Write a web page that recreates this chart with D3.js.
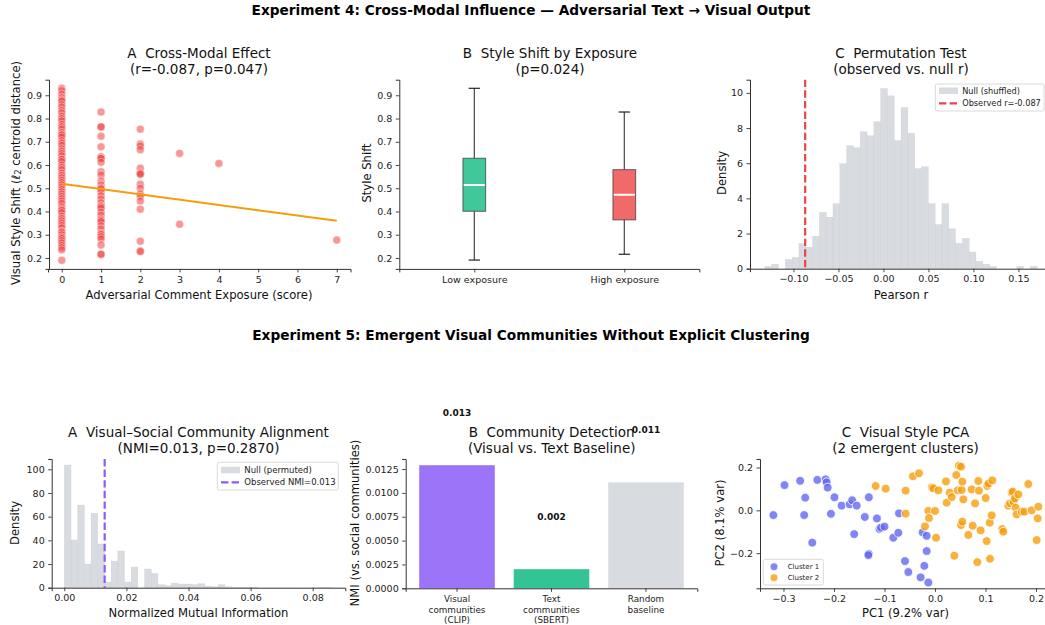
<!DOCTYPE html>
<html><head><meta charset="utf-8">
<script src="https://cdn.jsdelivr.net/npm/d3@7"></script>
<style>
body{margin:0;background:#fff;}
svg{font-family:"DejaVu Sans",sans-serif;}
svg text{white-space:pre;}
</style></head><body>
<svg id="chart" width="1045" height="625"></svg>
<script>
// ---------------- DATA ----------------
// Exp 4A: visual style shift by adversarial exposure score
const exposureLevels = [0, 1, 2, 3, 4, 7];
const shiftExp0 = [0.93,0.92,0.905,0.89,0.88,0.875,0.86,0.85,0.835,0.825,0.81,0.80,0.79,0.775,0.765,0.755,0.74,0.73,0.73,0.72,0.705,0.695,0.685,0.67,0.66,0.65,0.64,0.625,0.625,0.615,0.60,0.59,0.58,0.565,0.555,0.545,0.535,0.525,0.515,0.505,0.495,0.485,0.475,0.465,0.455,0.445,0.435,0.42,0.41,0.405,0.395,0.38,0.37,0.36,0.35,0.34,0.33,0.315,0.31,0.30,0.29,0.285,0.275,0.265,0.255,0.245,0.235,0.19];
const shiftExp1 = [0.828,0.764,0.764,0.724,0.678,0.636,0.629,0.629,0.612,0.571,0.557,0.531,0.514,0.502,0.497,0.485,0.468,0.454,0.438,0.425,0.420,0.414,0.397,0.385,0.368,0.362,0.356,0.339,0.325,0.306,0.302,0.292,0.282,0.256,0.217,0.215];
const shiftExp2 = [0.754,0.690,0.682,0.666,0.586,0.567,0.563,0.560,0.517,0.500,0.475,0.465,0.445,0.410,0.272,0.230,0.228];
const shiftExp3 = [0.650,0.345];
const shiftExp4 = [0.607];
const shiftExp7 = [0.277];
const fitX = [0, 7];
const fitY = [0.519, 0.360];
const xTicksA = [0,1,2,3,4,5,6,7];
const yTicksShift = [0.2,0.3,0.4,0.5,0.6,0.7,0.8,0.9];

// Exp 4B: box plot summary
const boxGroups = ["Low exposure", "High exposure"];
const boxWhiskLow = [0.191, 0.216];
const boxQ1 = [0.401, 0.364];
const boxMedian = [0.514, 0.472];
const boxQ3 = [0.629, 0.580];
const boxWhiskHigh = [0.930, 0.828];

// Exp 4C: permutation null distribution (density per bin)
const permBinLo = -0.1317, permBinHi = 0.1709;
const permDensity = [0.13,0.25,0,0.53,0.64,1.44,1.23,1.85,3.2,2.93,3.7,5.97,7.0,6.88,7.79,7.56,8.36,10.25,9.83,7.28,9.17,7.71,5.69,5.80,3.7,2.51,3.7,2.27,1.44,1.72,0.95,0.42,0.26,0.13,0,0,0,0.13,0,0.13];
const observedR = -0.087;
const xTicksPerm = [-0.10,-0.05,0.00,0.05,0.10,0.15];
const yTicksPerm = [0,2,4,6,8,10];

// Exp 5A: NMI null distribution
const nmiBinLo = 0, nmiBinHi = 0.0862;
const nmiDensity = [103.6,40.3,69.8,20,63,36.9,4.8,22.5,31,4.8,17.5,0,15.8,12.1,2.5,1.7,3.9,3.1,3.1,2.5,3.4,1.4,0.8,2.5,0.8,0.5,0.5,0.3,0.3,0,0,0,0,0,0,0,0,0,0.3,0.3];
const observedNMI = 0.013;
const xTicksNMI = [0.00,0.02,0.04,0.06,0.08];
const yTicksNMI = [0,20,40,60,80,100];

// Exp 5B: community detection bars
const commCategories = [["Visual","communities","(CLIP)"],["Text","communities","(SBERT)"],["Random","baseline"]];
const commNMI = [0.0129, 0.0020, 0.0111];
const commLabels = ["0.013", "0.002", "0.011"];
const yTicksComm = [0.0000,0.0025,0.0050,0.0075,0.0100,0.0125];

// Exp 5C: PCA of visual style
const cluster1PC1 = [-0.320,-0.298,-0.267,-0.257,-0.259,-0.243,-0.233,-0.2165,-0.2145,-0.2125,-0.206,-0.199,-0.185,-0.169,-0.164,-0.155,-0.160,-0.139,-0.131,-0.131,-0.132,-0.115,-0.110,-0.107,-0.100,-0.0825,-0.0726,-0.0713,-0.0594,-0.0528,-0.0284,-0.0244,-0.0211,-0.0165,-0.0165,-0.0132];
const cluster1PC2 = [-0.022,0.118,0.138,0.059,-0.022,-0.151,0.142,0.145,0.131,0.106,-0.016,0.061,0.022,0.028,0.047,0.022,-0.111,-0.031,0.061,-0.203,-0.209,-0.038,-0.087,-0.081,-0.076,-0.128,-0.105,-0.014,-0.237,-0.288,-0.313,-0.103,-0.259,-0.119,-0.190,-0.337];
const cluster2PC1 = [-0.1175,-0.0977,-0.0581,-0.0581,-0.0436,-0.0317,-0.0198,-0.0132,-0.0119,0.000,0.002,-0.006,-0.0033,0.0066,0.0218,0.0231,0.029,0.033,0.0383,0.0422,0.0475,0.0515,0.0449,0.0528,0.0541,0.0515,0.0541,0.0561,0.066,0.0726,0.0746,0.0792,0.0858,0.0871,0.0904,0.1003,0.1023,0.1036,0.1056,0.1083,0.1089,0.1122,0.1135,0.0838,0.1333,0.1353,0.1452,0.1485,0.1518,0.1538,0.1551,0.1584,0.1597,0.1617,0.165,0.1716,0.1769,0.1848,0.1914,0.2013,0.2046,0.2033];
const cluster2PC2 = [0.1136,0.101,0.0917,-0.0157,0.159,0.173,-0.075,-0.003,-0.036,-0.003,-0.128,0.107,0.1027,0.0933,0.135,0.0357,0.0824,0.062,-0.212,0.165,0.2086,0.2039,0.0933,0.095,0.134,-0.0687,-0.053,0.0513,-0.115,0.098,-0.072,0.0326,0.137,0.0917,-0.0936,0.0575,-0.1435,0.1136,0.1245,-0.0578,-0.226,-0.0235,0.140,-0.2416,-0.0874,-0.0998,0.0216,0.0326,0.0824,0.087,0.0403,0.056,0.0123,-0.0188,0.0746,-0.0064,-0.0064,0.1229,0.000,-0.1388,0.017,-0.0375];
const xTicksPCA = [-0.3,-0.2,-0.1,0.0,0.1,0.2];
const yTicksPCA = [-0.2,0.0,0.2];

// ---------------- DRAWING ----------------
const svg = d3.select("#chart");
const TICK_FS = 9.5, LABEL_FS = 11.6, TITLE_FS = 13.5, INK = "#222";

function styleAxis(g){
  g.attr("font-family","DejaVu Sans").attr("font-size",TICK_FS);
  g.select(".domain").attr("stroke","#333").attr("stroke-width",1);
  g.selectAll(".tick line").attr("stroke","#333").attr("stroke-width",0.9);
  g.selectAll(".tick text").attr("fill",INK);
}
function xAxis(scale, y, ticks, fmt){
  const g = svg.append("g").attr("transform",`translate(0,${y})`)
    .call(d3.axisBottom(scale).tickValues(ticks).tickFormat(fmt).tickSizeOuter(0).tickSize(3.5).tickPadding(3.5));
  styleAxis(g); return g;
}
function yAxis(scale, x, ticks, fmt){
  const g = svg.append("g").attr("transform",`translate(${x},0)`)
    .call(d3.axisLeft(scale).tickValues(ticks).tickFormat(fmt).tickSizeOuter(0).tickSize(3.5).tickPadding(3.5));
  styleAxis(g); return g;
}
function title(cx, y1, l1, l2){
  [l1,l2].forEach((t,i)=>svg.append("text").attr("x",cx).attr("y",y1+i*15.2)
    .attr("text-anchor","middle").attr("dominant-baseline","central")
    .attr("font-size",TITLE_FS).attr("fill","#111").text(t));
}
function xLabel(cx, y, t){
  svg.append("text").attr("x",cx).attr("y",y).attr("text-anchor","middle")
    .attr("dominant-baseline","central").attr("font-size",LABEL_FS).attr("fill","#111").text(t);
}
function yLabel(x, cy, t){
  return svg.append("text").attr("transform",`translate(${x},${cy}) rotate(-90)`).attr("text-anchor","middle")
    .attr("dominant-baseline","central").attr("font-size",LABEL_FS).attr("fill","#111").text(t);
}
function legendBox(x,y,w,h){
  svg.append("rect").attr("x",x).attr("y",y).attr("width",w).attr("height",h).attr("rx",2)
    .attr("fill","#fff").attr("fill-opacity",0.8).attr("stroke","#d0d0d0").attr("stroke-width",0.8);
}
const fmt1 = d3.format(".1f"), fmt2 = d3.format(".2f"), fmt4 = d3.format(".4f"), fmt0 = d3.format("d");

// suptitles
svg.append("text").attr("x",531).attr("y",9.5).attr("text-anchor","middle").attr("dominant-baseline","central")
  .attr("font-size",13.7).attr("font-weight","bold").attr("fill","#000")
  .text("Experiment 4: Cross-Modal Influence — Adversarial Text → Visual Output");
svg.append("text").attr("x",531).attr("y",335).attr("text-anchor","middle").attr("dominant-baseline","central")
  .attr("font-size",13.7).attr("font-weight","bold").attr("fill","#000")
  .text("Experiment 5: Emergent Visual Communities Without Explicit Clustering");

// ===== Panel 4A =====
{
  const L=48, R=350.5, T=79.7, B=268.9;
  const x = d3.scaleLinear().domain([-0.35,7.35]).range([L,R]);
  const y = d3.scaleLinear().domain([0.153,0.967]).range([B,T]);
  const groups = [shiftExp0,shiftExp1,shiftExp2,shiftExp3,shiftExp4,shiftExp7];
  const pts = [];
  groups.forEach((arr,i)=>arr.forEach(v=>pts.push([exposureLevels[i],v])));
  svg.append("g").selectAll("circle").data(pts).join("circle")
    .attr("cx",d=>x(d[0])).attr("cy",d=>y(d[1])).attr("r",4)
    .attr("fill","#ef4444").attr("fill-opacity",0.55)
    .attr("stroke","#fff").attr("stroke-opacity",0.6).attr("stroke-width",0.7);
  svg.append("path").datum(fitX.map((v,i)=>[v,fitY[i]]))
    .attr("d",d3.line().x(d=>x(d[0])).y(d=>y(d[1])))
    .attr("fill","none").attr("stroke","#f59e0b").attr("stroke-width",2);
  xAxis(x,B,xTicksA,fmt0);
  yAxis(y,L+1,yTicksShift,fmt1);
  title(199,53.3,"A  Cross-Modal Effect","(r=-0.087, p=0.047)");
  xLabel(199,295,"Adversarial Comment Exposure (score)");
  const yl = svg.append("text").attr("transform",`translate(15.5,173) rotate(-90)`).attr("text-anchor","middle")
    .attr("dominant-baseline","central").attr("font-size",LABEL_FS).attr("fill","#111");
  yl.append("tspan").text("Visual Style Shift (");
  yl.append("tspan").attr("font-style","italic").text("ℓ");
  yl.append("tspan").attr("font-size",8).attr("dy",2.5).text("2");
  yl.append("tspan").attr("dy",-2.5).text(" centroid distance)");
}

// ===== Panel 4B =====
{
  const L=399.3, R=699.3, T=79.7, B=268.9;
  const x = d3.scalePoint().domain(boxGroups).range([L,R]).padding(0.5);
  const y = d3.scaleLinear().domain([0.153,0.967]).range([B,T]);
  const colors = ["#10b981","#ef4444"];
  const bw = 22.7, cw = 11.3;
  boxGroups.forEach((gname,i)=>{
    const cx = x(gname);
    const g = svg.append("g");
    g.append("line").attr("x1",cx).attr("x2",cx).attr("y1",y(boxWhiskHigh[i])).attr("y2",y(boxQ3[i])).attr("stroke","#444").attr("stroke-width",1.2);
    g.append("line").attr("x1",cx).attr("x2",cx).attr("y1",y(boxQ1[i])).attr("y2",y(boxWhiskLow[i])).attr("stroke","#444").attr("stroke-width",1.2);
    [boxWhiskHigh[i],boxWhiskLow[i]].forEach(v=>g.append("line").attr("x1",cx-cw/2).attr("x2",cx+cw/2).attr("y1",y(v)).attr("y2",y(v)).attr("stroke","#222").attr("stroke-width",1.2));
    g.append("rect").attr("x",cx-bw/2).attr("width",bw).attr("y",y(boxQ3[i])).attr("height",y(boxQ1[i])-y(boxQ3[i]))
      .attr("fill",colors[i]).attr("fill-opacity",0.8).attr("stroke","#444").attr("stroke-opacity",0.8).attr("stroke-width",1);
    g.append("line").attr("x1",cx-bw/2+0.8).attr("x2",cx+bw/2-0.8).attr("y1",y(boxMedian[i])).attr("y2",y(boxMedian[i])).attr("stroke","#fff").attr("stroke-width",2);
  });
  xAxis(x,B,boxGroups,d=>d);
  yAxis(y,L,yTicksShift,fmt1);
  title(550,53.3,"B  Style Shift by Exposure","(p=0.024)");
  yLabel(366.7,173,"Style Shift");
}

// ===== Panel 4C =====
{
  const L=750, R=1051, T=79.7, B=268.7;
  const x = d3.scaleLinear().domain([-0.1483,0.1862]).range([L,R]);
  const y = d3.scaleLinear().domain([0,10.75]).range([B,T]);
  const bw = (permBinHi-permBinLo)/permDensity.length;
  svg.append("g").selectAll("rect").data(permDensity).join("rect")
    .attr("x",(d,i)=>x(permBinLo+i*bw)).attr("width",(d,i)=>x(permBinLo+(i+1)*bw)-x(permBinLo+i*bw))
    .attr("y",d=>y(d)).attr("height",d=>B-y(d))
    .attr("fill","#d1d5db").attr("fill-opacity",0.85).attr("stroke","#c9cdd3").attr("stroke-width",0.3);
  svg.append("line").attr("x1",x(observedR)).attr("x2",x(observedR)).attr("y1",T).attr("y2",B)
    .attr("stroke","#ef4444").attr("stroke-width",2.2).attr("stroke-dasharray","7.4,3.2");
  xAxis(x,B,xTicksPerm,fmt2);
  yAxis(y,L,yTicksPerm,fmt0);
  title(901,53.3,"C  Permutation Test","(observed vs. null r)");
  xLabel(901,295,"Pearson r");
  yLabel(721.7,173,"Density");
  legendBox(935.3,84,108.7,27);
  svg.append("rect").attr("x",939).attr("y",87.5).attr("width",19).attr("height",6.5).attr("fill","#d1d5db").attr("fill-opacity",0.85);
  svg.append("line").attr("x1",939).attr("x2",958).attr("y1",103.3).attr("y2",103.3).attr("stroke","#ef4444").attr("stroke-width",2.2).attr("stroke-dasharray","7.4,3.2");
  [["Null (shuffled)",90.7],["Observed r=-0.087",103.3]].forEach(([t,yy])=>svg.append("text").attr("x",962.2).attr("y",yy)
    .attr("dominant-baseline","central").attr("font-size",8.2).attr("fill",INK).text(t));
}

// ===== Panel 5A =====
{
  const L=51.7, R=345.3, T=459, B=587.7;
  const x = d3.scaleLinear().domain([-0.00406,0.0905]).range([L,R]);
  const y = d3.scaleLinear().domain([0,108.7]).range([B,T]);
  const bw = (nmiBinHi-nmiBinLo)/nmiDensity.length;
  svg.append("g").selectAll("rect").data(nmiDensity).join("rect")
    .attr("x",(d,i)=>x(nmiBinLo+i*bw)).attr("width",(d,i)=>x(nmiBinLo+(i+1)*bw)-x(nmiBinLo+i*bw))
    .attr("y",d=>y(d)).attr("height",d=>B-y(d))
    .attr("fill","#d1d5db").attr("fill-opacity",0.85).attr("stroke","#c9cdd3").attr("stroke-width",0.3);
  svg.append("line").attr("x1",x(observedNMI)).attr("x2",x(observedNMI)).attr("y1",T).attr("y2",B)
    .attr("stroke","#8b5cf6").attr("stroke-width",2.2).attr("stroke-dasharray","7.4,3.2");
  xAxis(x,B,xTicksNMI,fmt2);
  yAxis(y,L,yTicksNMI,fmt0);
  title(198.5,432.3,"A  Visual–Social Community Alignment","(NMI=0.013, p=0.2870)");
  xLabel(198.5,613.3,"Normalized Mutual Information");
  yLabel(15,523,"Density");
  legendBox(217.3,462.3,121,27.7);
  svg.append("rect").attr("x",221).attr("y",466.8).attr("width",19).attr("height",6.5).attr("fill","#d1d5db").attr("fill-opacity",0.85);
  svg.append("line").attr("x1",221).attr("x2",240).attr("y1",482.3).attr("y2",482.3).attr("stroke","#8b5cf6").attr("stroke-width",2.2).attr("stroke-dasharray","7.4,3.2");
  [["Null (permuted)",470],["Observed NMI=0.013",482.3]].forEach(([t,yy])=>svg.append("text").attr("x",244.3).attr("y",yy)
    .attr("dominant-baseline","central").attr("font-size",8.5).attr("fill",INK).text(t));
}

// ===== Panel 5B =====
{
  const L=405.7, R=697.3, T=459, B=588.3;
  const idx = commNMI.map((d,i)=>i);
  const x = d3.scaleBand().domain(idx).range([L,R]).paddingInner(0.2).paddingOuter(0.143);
  const y = d3.scaleLinear().domain([0,0.01355]).range([B,T]);
  const colors = ["#8b5cf6","#10b981","#d1d5db"];
  title(551.7,432.3,"B  Community Detection","(Visual vs. Text Baseline)");
  svg.append("g").selectAll("rect").data(commNMI).join("rect")
    .attr("x",(d,i)=>x(i)).attr("width",x.bandwidth()).attr("y",d=>y(d)).attr("height",d=>B-y(d))
    .attr("fill",(d,i)=>colors[i]).attr("fill-opacity",0.85);
  svg.append("g").selectAll("text").data(commNMI).join("text")
    .attr("x",(d,i)=>x(i)+x.bandwidth()/2).attr("y",d=>y(d+0.0055))
    .attr("text-anchor","middle").attr("dominant-baseline","central")
    .attr("font-size",9).attr("font-weight","bold").attr("fill","#111").text((d,i)=>commLabels[i]);
  const gx = xAxis(x,B,idx,()=>"");
  gx.selectAll(".tick text").remove();
  idx.forEach(i=>{
    const t = svg.append("text").attr("x",x(i)+x.bandwidth()/2).attr("y",599.3).attr("text-anchor","middle")
      .attr("dominant-baseline","central").attr("font-size",8.8).attr("fill",INK);
    commCategories[i].forEach((s,j)=>t.append("tspan").attr("x",x(i)+x.bandwidth()/2).attr("dy",j===0?0:10.2).text(s));
  });
  yAxis(y,L,yTicksComm,fmt4);
  yLabel(355,523,"NMI (vs. social communities)");
}

// ===== Panel 5C =====
{
  const L=760, R=1051, T=459, B=588.3;
  const x = d3.scaleLinear().domain([-0.3465,0.2297]).range([L,R]);
  const y = d3.scaleLinear().domain([-0.364,0.2397]).range([B,T]);
  const draw = (xs,ys,c)=>svg.append("g").selectAll("circle").data(xs).join("circle")
    .attr("cx",d=>x(d)).attr("cy",(d,i)=>y(ys[i])).attr("r",4.4)
    .attr("fill",c).attr("fill-opacity",0.8).attr("stroke","#fff").attr("stroke-width",0.8);
  draw(cluster1PC1,cluster1PC2,"#6366f1");
  draw(cluster2PC1,cluster2PC2,"#f59e0b");
  xAxis(x,B,xTicksPCA,fmt1);
  yAxis(y,L,yTicksPCA,fmt1);
  title(905.5,432.3,"C  Visual Style PCA","(2 emergent clusters)");
  xLabel(905.5,613.3,"PC1 (9.2% var)");
  yLabel(720,523,"PC2 (8.1% var)");
  legendBox(763.3,559.3,60,25.7);
  [["Cluster 1","#6366f1",566.7],["Cluster 2","#f59e0b",577.7]].forEach(([t,c,yy])=>{
    svg.append("circle").attr("cx",774).attr("cy",yy).attr("r",4).attr("fill",c).attr("fill-opacity",0.8).attr("stroke","#fff").attr("stroke-width",0.8);
    svg.append("text").attr("x",787.7).attr("y",yy).attr("dominant-baseline","central").attr("font-size",7).attr("fill",INK).text(t);
  });
}
</script>
</body></html>
